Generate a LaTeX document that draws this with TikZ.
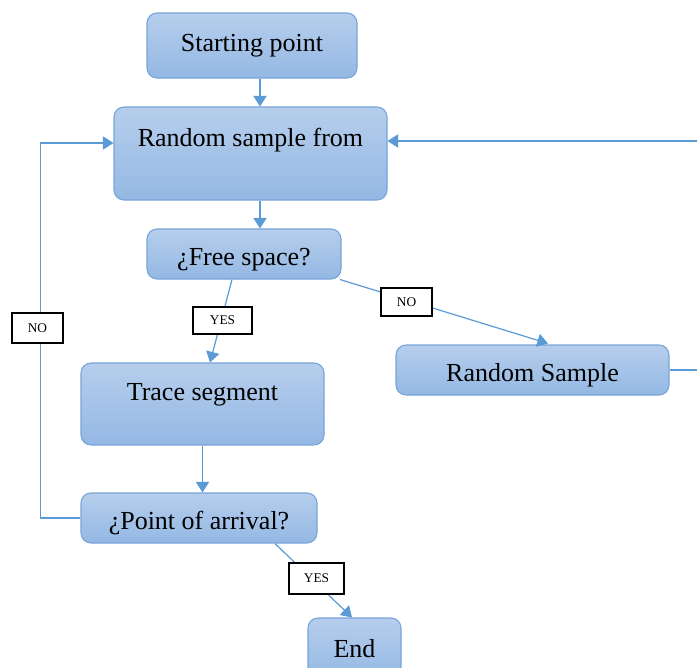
\documentclass[tikz,border=0pt]{standalone}
\usepackage{fontspec}
\setmainfont{Liberation Serif}
\usetikzlibrary{arrows.meta,calc}
\definecolor{boxtop}{RGB}{182,206,236}
\definecolor{boxbot}{RGB}{148,184,228}
\definecolor{boxedge}{RGB}{120,164,218}
\definecolor{linec}{RGB}{91,155,213}
\tikzset{
  box/.style={rounded corners=7.5pt, top color=boxtop, bottom color=boxbot, draw=boxedge, line width=0.8pt, inner sep=0pt},
  boxtext/.style={font=\fontsize{19.5}{23}\selectfont, inner sep=0pt},
  lab/.style={draw=black, fill=white, line width=0.8pt, font=\fontsize{10}{12}\selectfont, inner sep=0pt},
  arr/.style={draw=linec, line width=0.9pt, -{Triangle[length=8pt,width=10pt]}},
  ln/.style={draw=linec, line width=0.9pt}
}
\begin{document}
\begin{tikzpicture}[x=0.75pt,y=-0.75pt]
\useasboundingbox (0,0) rectangle (697,668);
\clip (0,0) rectangle (697,668);
\fill[white] (0,0) rectangle (697,668);
% boxes
\node[box, minimum width=157.5pt, minimum height=48.75pt] (start) at (252,45.5) {};
\node[box, minimum width=204.75pt, minimum height=69.75pt] (rsf) at (250.5,153.5) {};
\node[box, minimum width=145.5pt, minimum height=37.5pt] (free) at (244,254) {};
\node[box, minimum width=182.25pt, minimum height=61.5pt] (trace) at (202.5,404) {};
\node[box, minimum width=177pt, minimum height=37.5pt] (poa) at (199,518) {};
\node[box, minimum width=204.75pt, minimum height=37.5pt] (rs) at (532.5,370) {};
\node[box, minimum width=69.75pt, minimum height=46.5pt] (end) at (354.5,649) {};
% texts
\node[boxtext] (tstart) at (252,46) {Starting point};
\node[boxtext] (trsf) at (250.5,140) {Random sample from};
\node[boxtext] (tfree) at (244,260) {¿Free space?};
\node[boxtext] (ttrace) at (202.5,395) {Trace segment};
\node[boxtext] (tpoa) at (199,523) {¿Point of arrival?};
\node[boxtext] (trs) at (532.5,375) {Random Sample};
\node[boxtext] (tend) at (354.5,649) {End};
% connectors
\coordinate (cx) at (260,0);
\draw[arr] (start.south -| cx) -- (rsf.north -| cx);
\draw[arr] (rsf.south -| cx) -- (free.north -| cx);
\draw[arr] ($(free.south)+(-12,0)$) -- ($(trace.north)+(7.5,0)$);
\draw[arr] ($(free.south)+(96,0)$) -- ($(rs.north)+(15.5,-1)$);
\draw[arr] (trace.south) -- (trace.south |- poa.north);
\draw[arr] (poa.west) -- ++(-40,0) |- ($(rsf.west)+(0,-10.5)$);
\draw[arr] (rs.east) -- ++(60,0) |- ($(rsf.east)+(0,-12.5)$);
\draw[arr] ($(poa.south)+(76,0)$) -- ($(end.north)+(-2.5,0)$);
% labels
\node[lab, minimum width=44.25pt, minimum height=20.25pt] (yes1) at (222.5,320.5) {YES};
\node[lab, minimum width=38.25pt, minimum height=21pt] (no1) at (406.5,302) {NO};
\node[lab, minimum width=38.25pt, minimum height=22.5pt] (no2) at (37.5,328) {NO};
\node[lab, minimum width=41.25pt, minimum height=23.25pt] (yes2) at (316.5,578.5) {YES};
\end{tikzpicture}
\end{document}
